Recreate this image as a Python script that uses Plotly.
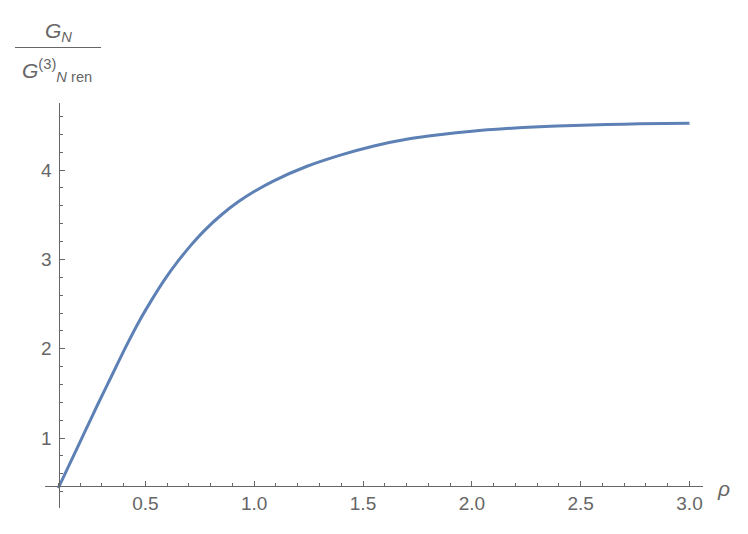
import plotly.graph_objects as go

# curve (rho, G_N / G^(3)_N ren)
RHO = [0.10, 0.16, 0.22, 0.28, 0.35, 0.41, 0.47, 0.53, 0.59, 0.65,
       0.71, 0.77, 0.85, 0.93, 1.00, 1.09, 1.24, 1.40, 1.55, 1.70,
       1.85, 2.00, 2.16, 2.31, 2.47, 2.62, 2.77, 3.00]
RATIO = [0.44, 0.75, 1.06, 1.37, 1.72, 2.02, 2.30, 2.55, 2.78, 2.98,
         3.16, 3.32, 3.50, 3.65, 3.76, 3.88, 4.04, 4.17, 4.27, 4.345,
         4.395, 4.435, 4.465, 4.485, 4.50, 4.51, 4.518, 4.525]

X_TICKS = [0.5, 1.0, 1.5, 2.0, 2.5, 3.0]
X_TICK_TEXT = ["0.5", "1.0", "1.5", "2.0", "2.5", "3.0"]
Y_TICKS = [1, 2, 3, 4]
Y_TICK_TEXT = ["1", "2", "3", "4"]

LINE_COLOR = "#5E81B5"
AXIS_COLOR = "#666666"
TEXT_COLOR = "#666666"
FONT = "Liberation Sans, Arial, sans-serif"

# the page body adds an 8px margin, so the figure is shrunk to fit the window
OFF = 8
W, H = 748 - 2 * OFF, 534 - 2 * OFF
M = dict(l=45 - OFF, r=45 - OFF, t=103 - OFF, b=26 - OFF)
X_RANGE = [0.039, 3.062]
Y_RANGE = [0.217, 4.751]
X_CROSS = 0.466   # y value where the x axis sits
Y_CROSS = 0.022   # y axis position, fraction of plot width

fig = go.Figure(
    go.Scatter(
        x=RHO,
        y=RATIO,
        mode="lines",
        line=dict(color=LINE_COLOR, width=3, shape="spline", smoothing=0.6),
        showlegend=False,
        hoverinfo="skip",
    )
)

x_pos = (X_CROSS - Y_RANGE[0]) / (Y_RANGE[1] - Y_RANGE[0])

tick_font = dict(family=FONT, size=19, color=TEXT_COLOR)

fig.update_xaxes(
    range=X_RANGE,
    anchor="free",
    position=x_pos,
    showline=True,
    linecolor=AXIS_COLOR,
    linewidth=1,
    showgrid=False,
    zeroline=False,
    tickmode="array",
    tickvals=X_TICKS,
    ticktext=X_TICK_TEXT,
    ticks="inside",
    ticklen=5,
    tickcolor=AXIS_COLOR,
    tickwidth=1,
    tickfont=tick_font,
    ticklabelstandoff=0,
    minor=dict(ticks="inside", ticklen=3, tickcolor=AXIS_COLOR, dtick=0.1, tick0=0, showgrid=False),
    automargin=False,
)

fig.update_yaxes(
    range=Y_RANGE,
    anchor="free",
    position=Y_CROSS,
    showline=True,
    linecolor=AXIS_COLOR,
    linewidth=1,
    showgrid=False,
    zeroline=False,
    tickmode="array",
    tickvals=Y_TICKS,
    ticktext=Y_TICK_TEXT,
    ticks="inside",
    ticklen=5,
    tickcolor=AXIS_COLOR,
    tickwidth=1,
    tickfont=tick_font,
    ticklabelstandoff=4,
    minor=dict(ticks="inside", ticklen=3, tickcolor=AXIS_COLOR, dtick=0.2, tick0=0, showgrid=False),
    automargin=False,
)

pw = W - M["l"] - M["r"]
ph = H - M["t"] - M["b"]


# window pixel -> paper coordinates
def px_x(p):
    return (p - OFF - M["l"]) / pw


def px_y(p):
    return (H - M["b"] - (p - OFF)) / ph


label_font = dict(family=FONT, size=21, color=TEXT_COLOR)

# y axis label: fraction G_N / G^(3)_N ren
fig.add_annotation(
    text="<i>G</i><sub><i>N</i></sub>",
    xref="paper", yref="paper",
    x=px_x(58), y=px_y(32),
    xanchor="center", yanchor="middle",
    showarrow=False, font=label_font,
)
fig.add_shape(
    type="line",
    xref="paper", yref="paper",
    x0=px_x(15), x1=px_x(101),
    y0=px_y(47.5), y1=px_y(47.5),
    line=dict(color=AXIS_COLOR, width=1.2),
)
fig.add_annotation(
    text="<i>G</i><sup>(3)</sup><sub><i>N</i> ren</sub>",
    xref="paper", yref="paper",
    x=px_x(57), y=px_y(71),
    xanchor="center", yanchor="middle",
    showarrow=False, font=label_font,
)

# x axis label
fig.add_annotation(
    text="<i>ρ</i>",
    xref="paper", yref="paper",
    x=px_x(723), y=px_y(488),
    xanchor="center", yanchor="middle",
    showarrow=False, font=dict(family=FONT, size=21, color=TEXT_COLOR),
)

fig.update_layout(
    width=W,
    height=H,
    margin=M,
    plot_bgcolor="white",
    paper_bgcolor="white",
)

fig.write_html("out.html")
